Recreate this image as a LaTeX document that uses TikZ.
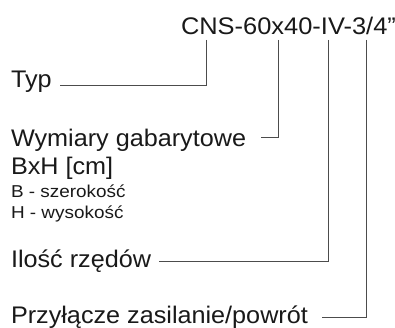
\documentclass[tikz,border=0pt]{standalone}
\usepackage{fontspec}
\setmainfont{Liberation Sans}[FakeStretch=1.05]
\newfontfamily\titlefnt{Liberation Sans}[FakeStretch=1.06]
\newfontfamily\smallfnt{Liberation Sans}[FakeStretch=1.1]
\begin{document}
\begin{tikzpicture}[x=1pt,y=1pt,
  big/.style={anchor=base west,inner sep=0pt,outer sep=0pt,text=black!90,font=\fontsize{24}{28}\selectfont},
  small/.style={anchor=base west,inner sep=0pt,outer sep=0pt,text=black!90,font=\smallfnt\fontsize{17.2}{20}\selectfont},
  lead/.style={draw=black!70,line width=0.9pt}]
\useasboundingbox (0,0) rectangle (395,328);
\node[big,font=\titlefnt\fontsize{24}{28}\selectfont] (title) at (181,293.5) {CNS-60x40-IV-3/4”};
\node[big] (typ) at (11,240) {Typ};
\node[big] (wym) at (11,181.5) {Wymiary gabarytowe};
\node[big] (bxh) at (11,153.5) {BxH [cm]};
\node[small] (bsz) at (11,130.7) {B - szerokość};
\node[small] (hwy) at (11,109.7) {H - wysokość};
\node[big] (ilo) at (11,60.7) {Ilość rzędów};
\node[big] (prz) at (11,4) {Przyłącze zasilanie/powrót};
\coordinate (a1) at (206,288);
\coordinate (a2) at (278,288);
\coordinate (a3) at (328,288);
\coordinate (a4) at (366,288);
\coordinate (b1) at (60,243);
\coordinate (b2) at (261,191);
\coordinate (b3) at (159,67);
\coordinate (b4) at (322,11);
\draw[lead] (a1) |- (b1);
\draw[lead] (a2) |- (b2);
\draw[lead] (a3) |- (b3);
\draw[lead] (a4) |- (b4);
\end{tikzpicture}
\end{document}
